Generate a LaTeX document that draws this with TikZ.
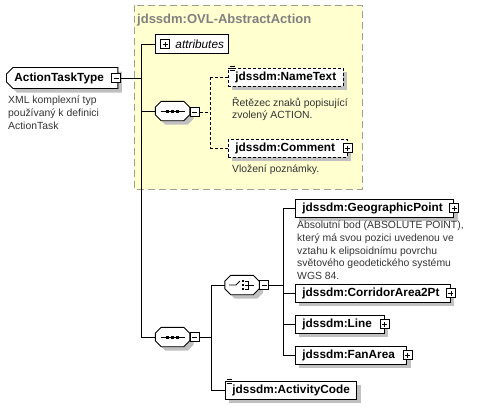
\documentclass[tikz,border=0pt]{standalone}
\usepackage{fontspec}
\setmainfont{Liberation Sans}
\usetikzlibrary{shapes.misc,shadows,calc}
\definecolor{yel}{RGB}{255,255,208}
\definecolor{yelb}{RGB}{160,160,140}
\definecolor{shd}{RGB}{192,192,192}
\definecolor{ttl}{RGB}{128,128,128}
\tikzset{
 conn/.style={line width=0.8pt},
 elem/.style={draw, fill=white, line width=0.9pt, anchor=west, inner xsep=7pt, inner ysep=0pt,
   minimum height=18pt, font=\fontsize{11.8}{14}\selectfont\bfseries,
   drop shadow={shadow xshift=4pt, shadow yshift=-4pt, fill=shd, opacity=1}},
 opt/.style={dash pattern=on 3pt off 2pt},
 desc/.style={anchor=north west, align=left, inner sep=0pt, font=\fontsize{10.4}{12.6}\selectfont, text=black!80},
 pmb/.style={draw, fill=white, minimum size=9pt, inner sep=0pt, line width=0.6pt},
 plusbox/.style={pmb, path picture={\draw[line width=0.6pt]
   ([xshift=2pt]path picture bounding box.west) -- ([xshift=-2pt]path picture bounding box.east)
   ([yshift=-2pt]path picture bounding box.north) -- ([yshift=2pt]path picture bounding box.south);}},
 minusbox/.style={pmb, path picture={\draw[line width=0.6pt]
   ([xshift=2pt]path picture bounding box.west) -- ([xshift=-2pt]path picture bounding box.east);}},
 comp/.style={inner sep=0pt, minimum width=34pt, minimum height=19pt},
}
\newcommand\pmgap[1]{\rule{#1}{0pt}}
\newcommand\octpath[1]{($(#1.north west)+(6,0)$) -- ($(#1.north east)+(-6,0)$) -- ($(#1.north east)+(0,6)$) -- ($(#1.south east)+(0,-6)$) -- ($(#1.south east)+(-6,0)$) -- ($(#1.south west)+(6,0)$) -- ($(#1.south west)+(0,-6)$) -- ($(#1.north west)+(0,6)$) -- cycle}
\newcommand\drawoct[1]{%
 \fill[shd, transform canvas={xshift=4pt,yshift=-4pt}] \octpath{#1};
 \draw[line width=0.9pt, fill=white] \octpath{#1};}
\newcommand\seqicon[1]{%
 \draw[line width=0.8pt] ($(#1.center)+(-12,0)$) -- ($(#1.center)+(12,0)$);
 \fill ($(#1.center)+(-6.5,-1.5)$) rectangle ++(3,3);
 \fill ($(#1.center)+(-1.5,-1.5)$) rectangle ++(3,3);
 \fill ($(#1.center)+(3.5,-1.5)$) rectangle ++(3,3);}
\newcommand\choiceicon[1]{%
 \draw[line width=0.8pt] ($(#1.center)+(-13,0)$) -- ($(#1.center)+(-6,0)$) -- ($(#1.center)+(-2,-4)$);
 \fill ($(#1.center)+(0,-5.2)$) rectangle ++(2.4,2.4);
 \fill ($(#1.center)+(0,-1.2)$) rectangle ++(2.4,2.4);
 \fill ($(#1.center)+(0,2.8)$) rectangle ++(2.4,2.4);
 \draw[line width=0.7pt] ($(#1.center)+(3,-4)$) -- ($(#1.center)+(6,-4)$) -- ($(#1.center)+(6,4)$) -- ($(#1.center)+(3,4)$)
   ($(#1.center)+(3,0)$) -- ($(#1.center)+(12,0)$);}
\newcommand\simpleicon[1]{%
 \draw[line width=0.5pt] ($(#1.north west)+(1.5,-1)$) -- ++(5,0);
 \draw[line width=0.5pt] ($(#1.north west)+(1.5,1)$) -- ++(5,0);
 \draw[line width=0.5pt] ($(#1.north west)+(1.5,3)$) -- ++(5,0);}
\begin{document}
\begin{tikzpicture}[x=1pt,y=-1pt]
\useasboundingbox (0,0) rectangle (485,410);
% group box
\draw[yelb, dash pattern=on 7pt off 4pt, fill=yel, line width=0.8pt] (134,5) rectangle (362,189);
\node[anchor=base west, text=ttl, inner sep=0pt, font=\fontsize{13}{15}\selectfont\bfseries] (title) at (137,23.5) {jdssdm:OVL-AbstractAction};
\coordinate (trunk) at (141,0);
\coordinate (dtrunk) at (210,0);
\coordinate (strunk) at (211,0);
\coordinate (ctrunk) at (283,0);
% root
\node[elem, chamfered rectangle, chamfered rectangle corners={north west,south west}, chamfered rectangle xsep=3pt, minimum height=21pt, inner xsep=5pt] (act) at (6,78) {ActionTaskType\pmgap{6pt}};
\node[minusbox] (actm) at ($(act.east)+(-2,0)$) {};
\node[desc] (actd) at (8,96) {XML komplexní typ\\používaný k definici\\ActionTask};
% attributes
\node[draw, fill=white, line width=0.9pt, anchor=west, minimum height=19pt, inner xsep=4pt, inner ysep=0pt, font=\fontsize{11.8}{13}\selectfont\itshape] (attr) at (155,44) {\pmgap{16pt}attributes};
\node[plusbox] (attrp) at ($(attr.west)+(10,0)$) {};
% sequence 1
\node[comp] (s1) at (172.5,111) {};
\drawoct{s1}
\seqicon{s1}
\node[minusbox] (s1m) at ($(s1.east)+(5,1)$) {};
% NameText
\node[elem, opt] (nt) at (228,77) {jdssdm:NameText};
\simpleicon{nt}
\node[desc] (ntd) at (232,97) {Řetězec znaků popisující\\zvolený ACTION.};
% Comment
\node[elem, opt] (cm) at (228,148) {jdssdm:Comment\pmgap{5pt}};
\node[plusbox] (cmp) at (cm.east) {};
\node[desc] (cmd) at (232,165) {Vložení poznámky.};
% sequence 2
\node[comp] (s2) at (172.5,337) {};
\drawoct{s2}
\seqicon{s2}
\node[minusbox] (s2m) at ($(s2.east)+(5,0)$) {};
% choice
\node[comp] (ch) at (242,285) {};
\drawoct{ch}
\choiceicon{ch}
\node[minusbox] (chm) at ($(ch.east)+(5,0)$) {};
% choice children
\node[elem] (gp) at (295,208) {jdssdm:GeographicPoint\pmgap{4pt}};
\node[plusbox] (gpp) at (gp.east) {};
\node[desc] (gpd) at (297,221) {Absolutní bod (ABSOLUTE POINT),\\který má svou pozici uvedenou ve\\vztahu k elipsoidnímu povrchu\\světového geodetického systému\\WGS 84.};
\node[elem] (ca) at (295,293) {jdssdm:CorridorArea2Pt\pmgap{4pt}};
\node[plusbox] (cap) at (ca.east) {};
\node[elem] (ln) at (295,324) {jdssdm:Line\pmgap{5pt}};
\node[plusbox] (lnp) at (ln.east) {};
\node[elem] (fa) at (295,355) {jdssdm:FanArea\pmgap{5pt}};
\node[plusbox] (fap) at (fa.east) {};
% ActivityCode
\node[elem] (ac) at (225,390) {jdssdm:ActivityCode};
\simpleicon{ac}
% connectors
\draw[conn] (actm.east) -- (actm.east -| trunk);
\draw[conn] (attr.west -| trunk) -- (s2.west -| trunk);
\draw[conn] (attr.west -| trunk) -- (attr.west);
\draw[conn] (s1.west -| trunk) -- (s1.west);
\draw[conn] (s2.west -| trunk) -- (s2.west);
\draw[conn, opt] (s1m.east) -- (s1m.east -| dtrunk);
\draw[conn, opt] (nt.west -| dtrunk) -- (cm.west -| dtrunk);
\draw[conn, opt] (nt.west -| dtrunk) -- (nt.west);
\draw[conn, opt] (cm.west -| dtrunk) -- (cm.west);
\draw[conn] (s2m.east) -- (s2m.east -| strunk);
\draw[conn] (ch.west -| strunk) -- (ac.west -| strunk);
\draw[conn] (ch.west -| strunk) -- (ch.west);
\draw[conn] (ac.west -| strunk) -- (ac.west);
\draw[conn] (chm.east) -- (chm.east -| ctrunk);
\draw[conn] (gp.west -| ctrunk) -- (fa.west -| ctrunk);
\draw[conn] (gp.west -| ctrunk) -- (gp.west);
\draw[conn] (ca.west -| ctrunk) -- (ca.west);
\draw[conn] (ln.west -| ctrunk) -- (ln.west);
\draw[conn] (fa.west -| ctrunk) -- (fa.west);
\end{tikzpicture}
\end{document}
